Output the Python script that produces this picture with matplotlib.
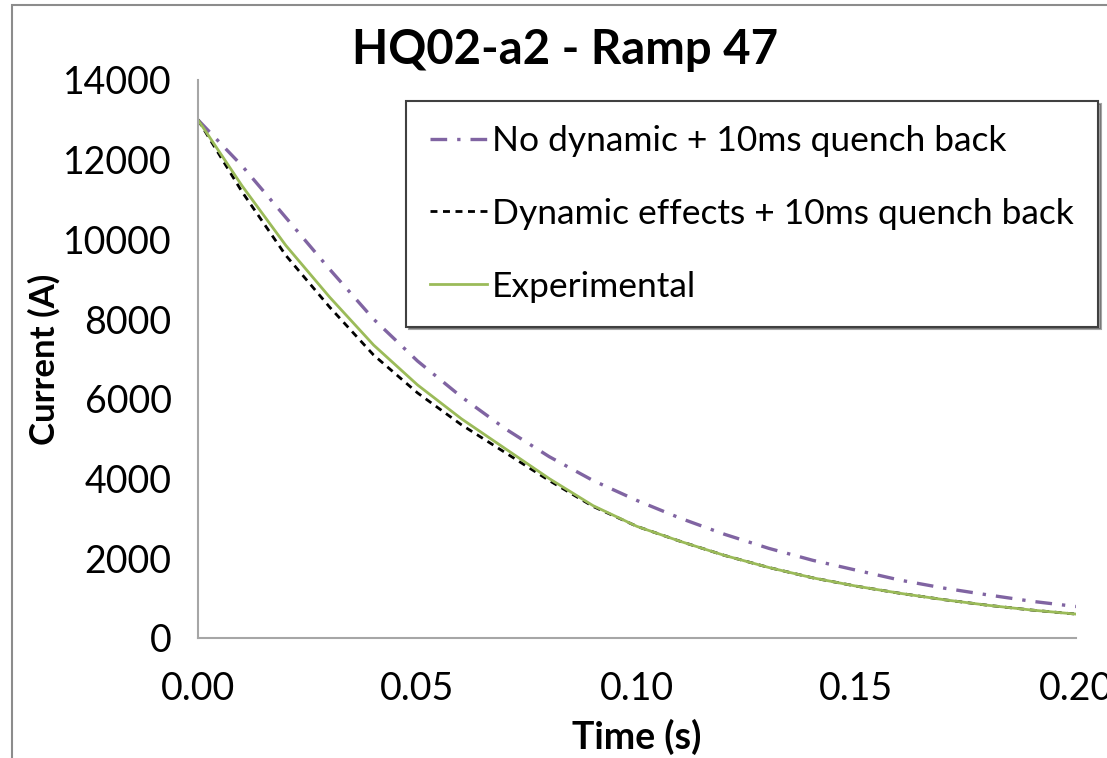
import numpy as np
import matplotlib.pyplot as plt
from matplotlib.patches import Rectangle

plt.rcParams['font.family'] = ['Lato', 'DejaVu Sans']

# time (s)
t = [0.00, 0.01, 0.02, 0.03, 0.04, 0.05, 0.06, 0.07, 0.08, 0.09, 0.10,
     0.11, 0.12, 0.13, 0.14, 0.15, 0.16, 0.17, 0.18, 0.19, 0.20]

# current (A)
no_dynamic = [13000, 11850, 10550, 9250, 8000, 6950, 6050, 5250, 4550, 3950, 3450,
              3000, 2600, 2250, 1950, 1700, 1450, 1250, 1080, 920, 790]
dynamic = [13000, 11200, 9600, 8300, 7100, 6150, 5350, 4650, 3950, 3300, 2800,
           2420, 2070, 1770, 1510, 1300, 1120, 960, 820, 700, 600]
experimental = [13000, 11350, 9850, 8550, 7350, 6350, 5500, 4750, 4000, 3320, 2800,
                2420, 2070, 1770, 1510, 1300, 1120, 960, 820, 700, 600]

labels = ['No dynamic + 10ms quench back',
          'Dynamic effects + 10ms quench back',
          'Experimental']

fig = plt.figure(figsize=(11.07, 7.58), dpi=100)
ax = fig.add_axes([198/1107, 1 - 638/758, (1076 - 198)/1107, (638 - 80)/758])

# outer chart border (cropped)
fig.patches.append(Rectangle((12/1107, -0.1), 1.2, 1 - 5/758 + 0.1,
                             transform=fig.transFigure, fill=False,
                             edgecolor='#8c8c8c', linewidth=1.5))

ax.plot(t, no_dynamic, color='#8064A2', linewidth=2.4,
        dashes=(5, 3, 1, 3), label=labels[0])
ax.plot(t, dynamic, color='black', linewidth=2.0,
        dashes=(2.5, 2), label=labels[1])
ax.plot(t, experimental, color='#9BBB59', linewidth=2.0, label=labels[2])

ax.set_xlim(0, 0.20)
ax.set_ylim(0, 14000)
ax.set_xticks([0.00, 0.05, 0.10, 0.15, 0.20])
ax.set_xticklabels(['0.00', '0.05', '0.10', '0.15', '0.20'])
ax.set_yticks(range(0, 14001, 2000))

for s in ['top', 'right']:
    ax.spines[s].set_visible(False)
for s in ['left', 'bottom']:
    ax.spines[s].set_color('#a6a6a6')
    ax.spines[s].set_linewidth(1.5)
ax.tick_params(axis='both', length=0, labelsize=27)
ax.tick_params(axis='x', pad=24)
ax.tick_params(axis='y', pad=19)

ax.set_xlabel('Time (s)', fontsize=27, fontweight='bold', labelpad=8)
ax.set_ylabel('Current (A)', fontsize=25, fontweight='bold', labelpad=2)
fig.text(565/1107, 1 - 50/758, 'HQ02-a2 - Ramp 47', fontsize=34,
         fontweight='bold', ha='center', va='center')

leg = ax.legend(loc='upper left', bbox_to_anchor=(406/1107, 1 - 101/758),
                bbox_transform=fig.transFigure, fontsize=25.5, frameon=True,
                fancybox=False, shadow=True, handlelength=1.6,
                handletextpad=0.15, labelspacing=1.15, borderpad=0.68,
                borderaxespad=0)
leg.get_frame().set_edgecolor('#404040')
leg.get_frame().set_linewidth(1.5)

fig.savefig('out.png', dpi=100)
